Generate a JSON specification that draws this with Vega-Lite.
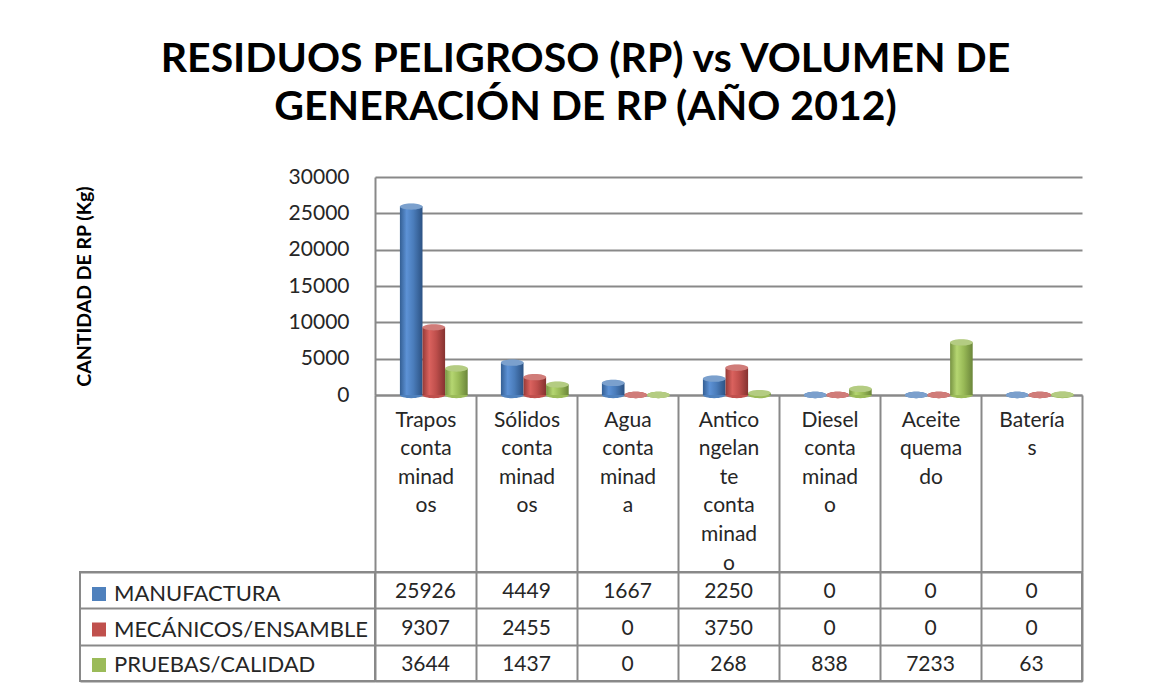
{
  "$schema": "https://vega.github.io/schema/vega-lite/v6.json",
  "padding": {"left": 74, "top": 39, "right": 5, "bottom": 5},
  "background": "white",
  "title": {
    "text": ["RESIDUOS PELIGROSO (RP) vs VOLUMEN DE", "GENERACIÓN DE RP (AÑO 2012)"],
    "font": "Lato", "fontSize": 41, "fontWeight": "bold", "lineHeight": 48, "color": "#000000", "anchor": "middle", "offset": 37, "dx": 7
  },
  "data": {"values": [
    {"cat": "Trapos contaminados", "serie": "MANUFACTURA", "value": 25926},
    {"cat": "Sólidos contaminados", "serie": "MANUFACTURA", "value": 4449},
    {"cat": "Agua contaminada", "serie": "MANUFACTURA", "value": 1667},
    {"cat": "Anticongelante contaminado", "serie": "MANUFACTURA", "value": 2250},
    {"cat": "Diesel contaminado", "serie": "MANUFACTURA", "value": 0},
    {"cat": "Aceite quemado", "serie": "MANUFACTURA", "value": 0},
    {"cat": "Baterías", "serie": "MANUFACTURA", "value": 0},
    {"cat": "Trapos contaminados", "serie": "MECÁNICOS/ENSAMBLE", "value": 9307},
    {"cat": "Sólidos contaminados", "serie": "MECÁNICOS/ENSAMBLE", "value": 2455},
    {"cat": "Agua contaminada", "serie": "MECÁNICOS/ENSAMBLE", "value": 0},
    {"cat": "Anticongelante contaminado", "serie": "MECÁNICOS/ENSAMBLE", "value": 3750},
    {"cat": "Diesel contaminado", "serie": "MECÁNICOS/ENSAMBLE", "value": 0},
    {"cat": "Aceite quemado", "serie": "MECÁNICOS/ENSAMBLE", "value": 0},
    {"cat": "Baterías", "serie": "MECÁNICOS/ENSAMBLE", "value": 0},
    {"cat": "Trapos contaminados", "serie": "PRUEBAS/CALIDAD", "value": 3644},
    {"cat": "Sólidos contaminados", "serie": "PRUEBAS/CALIDAD", "value": 1437},
    {"cat": "Agua contaminada", "serie": "PRUEBAS/CALIDAD", "value": 0},
    {"cat": "Anticongelante contaminado", "serie": "PRUEBAS/CALIDAD", "value": 268},
    {"cat": "Diesel contaminado", "serie": "PRUEBAS/CALIDAD", "value": 838},
    {"cat": "Aceite quemado", "serie": "PRUEBAS/CALIDAD", "value": 7233},
    {"cat": "Baterías", "serie": "PRUEBAS/CALIDAD", "value": 63}
  ]},
  "columns": 2,
  "bounds": "flush",
  "spacing": {"row": 177, "column": 0},
  "concat": [
    {
      "width": 295, "height": 218,
      "transform": [{"filter": "false"}],
      "mark": {"type": "text"},
      "encoding": {"text": {"value": ""}}
    },
    {
      "width": 707, "height": 218,
      "encoding": {
        "x": {"field": "cat", "type": "nominal", "title": null,
          "scale": {"type": "band", "domain": ["Trapos contaminados","Sólidos contaminados","Agua contaminada","Anticongelante contaminado","Diesel contaminado","Aceite quemado","Baterías"], "paddingInner": 0, "paddingOuter": 0},
          "axis": {
            "labelExpr": "{'Trapos contaminados':['Trapos','conta','minad','os'],'Sólidos contaminados':['Sólidos','conta','minad','os'],'Agua contaminada':['Agua','conta','minad','a'],'Anticongelante contaminado':['Antico','ngelan','te','conta','minad','o'],'Diesel contaminado':['Diesel','conta','minad','o'],'Aceite quemado':['Aceite','quema','do'],'Baterías':['Batería','s']}[datum.label]",
            "labelAngle": 0, "labelFontSize": 21, "labelColor": "#262626", "labelLineHeight": 28.6,
            "labelBaseline": "top", "labelPadding": -163, "labelLimit": 0,
            "ticks": true, "tickBand": "extent", "tickSize": 177, "tickColor": "#898989", "tickWidth": 2,
            "domain": true, "domainColor": "#898989", "domainWidth": 2, "grid": false
          }
        },
        "xOffset": {"field": "serie", "type": "nominal",
          "scale": {"type": "band", "domain": ["MANUFACTURA","MECÁNICOS/ENSAMBLE","PRUEBAS/CALIDAD"], "paddingInner": 0, "paddingOuter": 0.735, "align": 0.75}},
        "y": {"field": "value", "type": "quantitative", "title": "CANTIDAD DE RP (Kg)",
          "scale": {"domain": [0, 30000], "nice": false},
          "axis": {
            "values": [0, 5000, 10000, 15000, 20000, 25000, 30000], "format": "d",
            "labelFontSize": 21, "labelColor": "#262626", "labelPadding": 26, "ticks": false,
            "domain": true, "domainColor": "#898989", "domainWidth": 2,
            "grid": true, "gridColor": "#898989", "gridWidth": 2,
            "titleFontSize": 19.5, "titleFontWeight": "bold", "titleColor": "#000000", "titlePadding": 192,
            "minExtent": 89, "maxExtent": 89
          }
        }
      },
      "layer": [
        {
          "mark": {"type": "point", "filled": true, "opacity": 1, "size": 511, "shape": "M -1 0 A 1 0.28 0 1 1 1 0 A 1 0.28 0 1 1 -1 0 Z"},
          "encoding": {
            "y": {"datum": 0},
            "color": {"field": "serie", "type": "nominal",
              "scale": {"domain": ["MANUFACTURA","MECÁNICOS/ENSAMBLE","PRUEBAS/CALIDAD"], "range": ["#4f81bd","#c0504d","#9bbb59"]},
              "legend": {"orient": "none", "legendX": 8, "legendY": 406, "direction": "vertical", "title": null, "symbolType": "square", "symbolSize": 196, "symbolStrokeWidth": 0, "symbolOpacity": 1, "labelFontSize": 22, "labelColor": "#262626", "labelLimit": 400, "labelOffset": 4, "rowPadding": 13.5}
            }
          }
        },
        {
          "transform": [{"filter": "datum.serie == 'MANUFACTURA'"}],
          "mark": {"type": "bar", "color": {"gradient": "linear", "x1": 0, "x2": 1, "y1": 0, "y2": 0, "stops": [{"offset": 0, "color": "#345f94"}, {"offset": 0.3, "color": "#5d92d6"}, {"offset": 0.6, "color": "#4a7cba"}, {"offset": 1, "color": "#2c5283"}]}}
        },
        {
          "transform": [{"filter": "datum.serie == 'MECÁNICOS/ENSAMBLE'"}],
          "mark": {"type": "bar", "color": {"gradient": "linear", "x1": 0, "x2": 1, "y1": 0, "y2": 0, "stops": [{"offset": 0, "color": "#953a37"}, {"offset": 0.3, "color": "#da625e"}, {"offset": 0.6, "color": "#bf4f4c"}, {"offset": 1, "color": "#853230"}]}}
        },
        {
          "transform": [{"filter": "datum.serie == 'PRUEBAS/CALIDAD'"}],
          "mark": {"type": "bar", "color": {"gradient": "linear", "x1": 0, "x2": 1, "y1": 0, "y2": 0, "stops": [{"offset": 0, "color": "#779342"}, {"offset": 0.3, "color": "#b5d671"}, {"offset": 0.6, "color": "#99ba57"}, {"offset": 1, "color": "#6b863a"}]}}
        },
        {
          "mark": {"type": "point", "filled": true, "opacity": 1, "size": 511, "shape": "M -1 0 A 1 0.28 0 1 1 1 0 A 1 0.28 0 1 1 -1 0 Z"},
          "encoding": {
            "color": {"field": "serie", "type": "nominal",
              "scale": {"domain": ["MANUFACTURA","MECÁNICOS/ENSAMBLE","PRUEBAS/CALIDAD"], "range": ["#4f81bd","#c0504d","#9bbb59"]},
              "legend": {"orient": "none", "legendX": 8, "legendY": 406, "direction": "vertical", "title": null, "symbolType": "square", "symbolSize": 196, "symbolStrokeWidth": 0, "symbolOpacity": 1, "labelFontSize": 22, "labelColor": "#262626", "labelLimit": 400, "labelOffset": 4, "rowPadding": 13.5}
            }
          }
        },
        {
          "mark": {"type": "point", "filled": true, "color": "#ffffff", "opacity": 0.25, "size": 511, "shape": "M -1 0 A 1 0.28 0 1 1 1 0 A 1 0.28 0 1 1 -1 0 Z"}
        }
      ]
    },
    {
      "width": 295, "height": 109,
      "view": {"stroke": "#898989", "strokeWidth": 2},
      "mark": {"type": "text", "text": ""},
      "encoding": {
        "y": {"field": "serie", "type": "nominal", "title": null,
          "scale": {"type": "band", "domain": ["MANUFACTURA","MECÁNICOS/ENSAMBLE","PRUEBAS/CALIDAD"], "paddingInner": 0, "paddingOuter": 0},
          "axis": {"labels": false, "ticks": false, "domain": false, "grid": true, "tickBand": "extent", "gridColor": "#898989", "gridWidth": 2}}
      }
    },
    {
      "width": 707, "height": 109,
      "view": {"stroke": "#898989", "strokeWidth": 2},
      "mark": {"type": "text", "fontSize": 21, "color": "#262626", "dy": 2},
      "encoding": {
        "x": {"field": "cat", "type": "nominal", "title": null,
          "scale": {"type": "band", "domain": ["Trapos contaminados","Sólidos contaminados","Agua contaminada","Anticongelante contaminado","Diesel contaminado","Aceite quemado","Baterías"], "paddingInner": 0, "paddingOuter": 0},
          "axis": {"labels": false, "ticks": false, "domain": false, "grid": true, "tickBand": "extent", "gridColor": "#898989", "gridWidth": 2}},
        "y": {"field": "serie", "type": "nominal", "title": null,
          "scale": {"type": "band", "domain": ["MANUFACTURA","MECÁNICOS/ENSAMBLE","PRUEBAS/CALIDAD"], "paddingInner": 0, "paddingOuter": 0},
          "axis": {"labels": false, "ticks": false, "domain": false, "grid": true, "tickBand": "extent", "gridColor": "#898989", "gridWidth": 2}},
        "text": {"field": "value", "type": "quantitative", "format": "d"}
      }
    }
  ],
  "config": {
    "font": "Lato",
    "view": {"stroke": null},
    "axis": {"labelFont": "Lato", "titleFont": "Lato"},
    "legend": {"labelFont": "Lato"}
  }
}
